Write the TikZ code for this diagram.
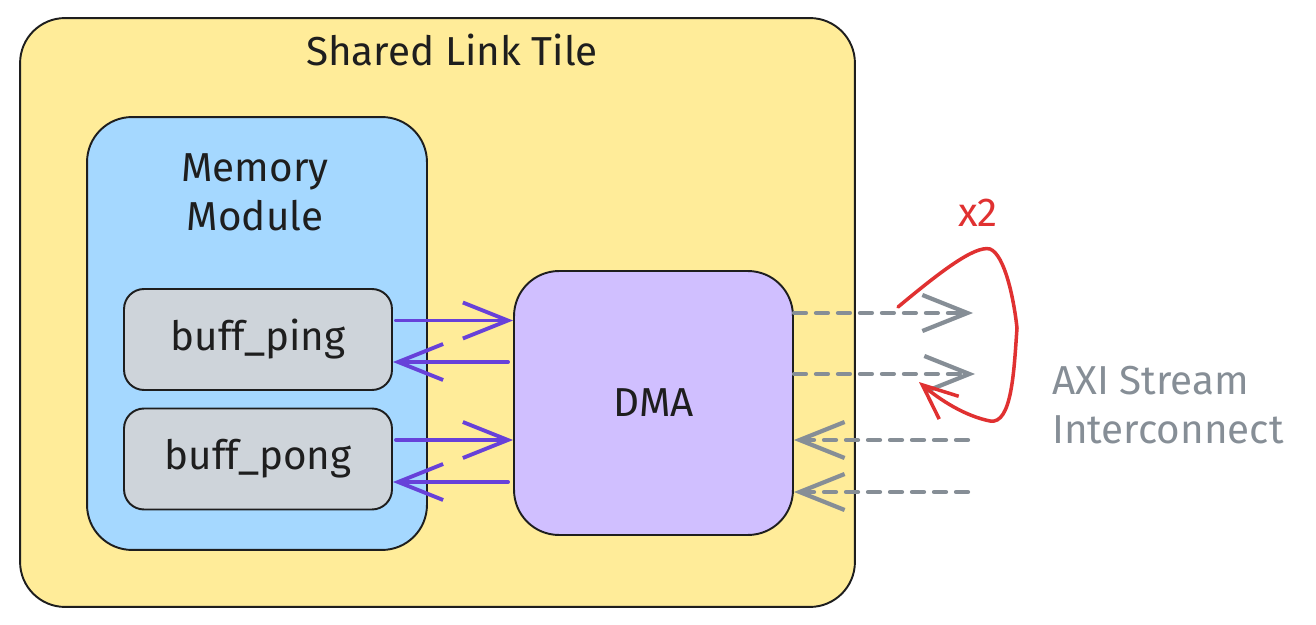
\documentclass[tikz,border=0pt]{standalone}
\usepackage{fontspec}
\setmainfont{Fira Sans}
\usetikzlibrary{arrows.meta}
\definecolor{ink}{HTML}{1E1E1E}
\definecolor{tilefill}{HTML}{FFEC99}
\definecolor{memfill}{HTML}{A5D8FF}
\definecolor{buffill}{HTML}{CED4DA}
\definecolor{dmafill}{HTML}{D0BFFF}
\definecolor{flowcol}{HTML}{6741D9}
\definecolor{axicol}{HTML}{868E96}
\definecolor{loopcol}{HTML}{E03131}

\begin{document}
\begin{tikzpicture}[x=0.02cm,y=-0.02cm,
    box/.style={draw=ink,line width=1.1pt,inner sep=0pt,rounded corners=0.9cm},
    txt/.style={font=\fontsize{23}{28}\selectfont,text=ink,align=center},
    flow/.style={draw=flowcol,line width=2.2pt,line cap=round,
        -{Straight Barb[length=0.9cm,width=0.72cm]}},
    axi/.style={draw=axicol,line width=2.4pt,line cap=round,dash pattern=on 0.24cm off 0.2cm,
        -{Straight Barb[length=0.9cm,width=0.72cm]}}]

\useasboundingbox (0,0) rectangle (1316,625);

\node [box,fill=tilefill,minimum width=16.7cm,minimum height=11.78cm] (tile) at (437.5,312.5) {};
\node [txt] (title) at (452,50) {Shared Link Tile};

\node [box,fill=memfill,minimum width=6.8cm,minimum height=8.66cm] (mem) at (257,333.5) {};
\node [txt] (memlabel) at (255,192) {Memory\\Module};
\node [box,txt,fill=buffill,rounded corners=0.4cm,minimum width=5.36cm,minimum height=2.02cm] (ping) at (258,339.5) {buff\_ping};
\node [box,txt,fill=buffill,rounded corners=0.4cm,minimum width=5.36cm,minimum height=2.02cm] (pong) at (258,459) {buff\_pong};

\node [box,txt,fill=dmafill,minimum width=5.58cm,minimum height=5.28cm] (dma) at (653.5,403) {DMA};

\path (ping.east) ++(3,-19) coordinate (ping out) (ping.east) ++(0,22.5) coordinate (ping in);
\path (pong.east) ++(3,-19) coordinate (pong out) (pong.east) ++(0,23) coordinate (pong in);
\draw [flow] (ping out) -- (ping out -| dma.west);
\draw [flow] (ping in -| dma.west) ++(-5,0) -- (ping in);
\draw [flow] (pong out) -- (pong out -| dma.west);
\draw [flow] (pong in -| dma.west) ++(-5,0) -- (pong in);

\coordinate (axi1) at (973,313);
\coordinate (axi2) at (975,374);
\coordinate (axi3) at (968,440);
\coordinate (axi4) at (968,492);
\draw [axi] (dma.east |- axi1) -- (axi1);
\draw [axi] (dma.east |- axi2) -- (axi2);
\draw [axi] (axi3) -- (dma.east |- axi3);
\draw [axi] (axi4) -- (dma.east |- axi4);
\node [txt,text=axicol,align=left,anchor=west] (axilabel) at (1046,405) {AXI Stream\\Interconnect};

\coordinate (loop start) at (898,307);
\coordinate (loop end) at (919,382);
\draw [loopcol,line width=2pt,line cap=round,-{Straight Barb[length=0.7cm,width=0.6cm]}]
    (loop start) .. controls (940,272) and (975,245) .. (990,249)
    .. controls (1005,255) and (1014,300) .. (1017,328)
    .. controls (1014,370) and (1012,425) .. (990,421)
    .. controls (965,416) and (940,400) .. (loop end);
\node [txt,text=loopcol] (times) at (978,213) {x2};

\end{tikzpicture}
\end{document}
